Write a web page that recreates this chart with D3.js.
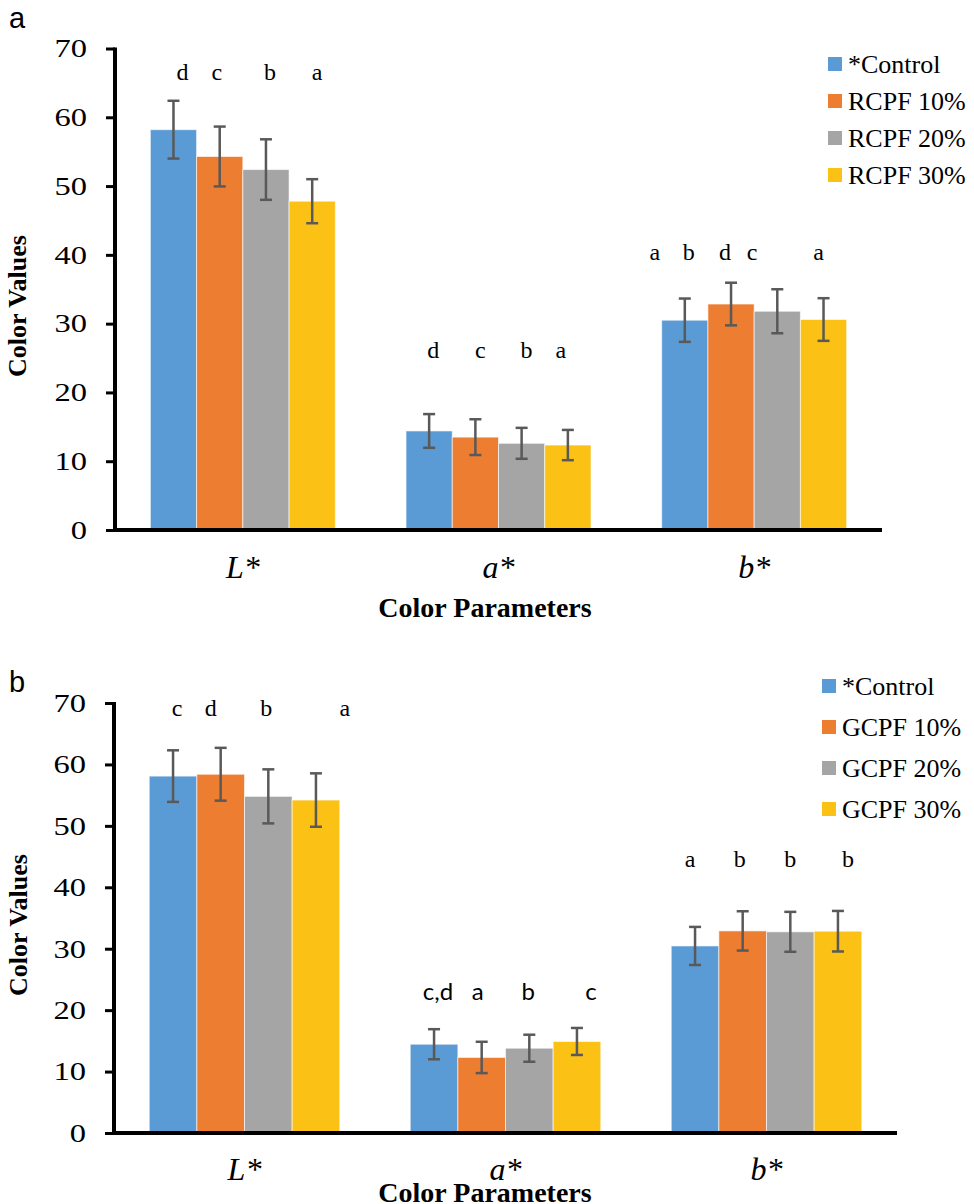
<!DOCTYPE html>
<html>
<head>
<meta charset="utf-8">
<script src="https://cdn.jsdelivr.net/npm/d3@7"></script>
<style>
  body { margin: 0; background: #fff; }
  svg { display: block; }
</style>
</head>
<body>
<svg id="chart" width="974" height="1204"></svg>
<script>
// categories and ticks
var categories = ["L*", "a*", "b*"];
var yTicks = [0, 10, 20, 30, 40, 50, 60, 70];
var colors = ["#5B9BD5", "#ED7D31", "#A5A5A5", "#FBC115"];

// panel a: series values per category (L*, a*, b*) and std errors
var seriesA = ["*Control", "RCPF 10%", "RCPF 20%", "RCPF 30%"];
var controlA = [58.2, 14.4, 30.5];
var rcpf10 = [54.3, 13.5, 32.85];
var rcpf20 = [52.4, 12.6, 31.8];
var rcpf30 = [47.8, 12.35, 30.6];
var controlAErr = [4.2, 2.45, 3.15];
var rcpf10Err = [4.35, 2.6, 3.1];
var rcpf20Err = [4.4, 2.25, 3.2];
var rcpf30Err = [3.2, 2.2, 3.1];
var lettersA = [["d", "c", "b", "a"], ["d", "c", "b", "a"], ["a", "b", "d", "c", "a"]];

// panel b
var seriesB = ["*Control", "GCPF 10%", "GCPF 20%", "GCPF 30%"];
var controlB = [58.1, 14.45, 30.45];
var gcpf10 = [58.4, 12.3, 32.9];
var gcpf20 = [54.8, 13.8, 32.75];
var gcpf30 = [54.2, 14.9, 32.85];
var controlBErr = [4.2, 2.45, 3.1];
var gcpf10Err = [4.3, 2.55, 3.2];
var gcpf20Err = [4.4, 2.2, 3.25];
var gcpf30Err = [4.35, 2.2, 3.3];
var lettersB = [["c", "d", "b", "a"], ["c,d", "a", "b", "c"], ["a", "b", "b", "b"]];

// layout for the significance letters (which bar, pixel nudge)
var letterBarA = [[0, 1, 2, 3], [0, 1, 2, 3], [0, 0, 1, 1, 3]];
var letterNudgeA = [[9, -3, 4, 5], [4, 5, 5, -7], [-30, 4, -6, 21, -5]];
var letterBarB = [[0, 1, 2, 3], [0, 1, 2, 3], [0, 1, 2, 3]];
var letterNudgeB = [[4, -10, -2, 29], [4, -4, -1, 14], [-5, -3, 0, 10]];

var svg = d3.select("#chart");
var serif = "'Liberation Serif', 'Times New Roman', serif";
var sans = "Lato, 'Open Sans', sans-serif";

function drawPanel(p) {
  var g = svg.append("g");

  var x0 = d3.scaleBand().domain(categories).range([p.left, p.right])
    .paddingInner(p.pad).paddingOuter(p.pad / 2);
  var x1 = d3.scaleBand().domain(d3.range(4)).range([0, x0.bandwidth()]);
  var y = d3.scaleLinear().domain([0, 70]).range([p.bottom, p.top]);

  var rows = [];
  categories.forEach(function (c, ci) {
    p.values.forEach(function (s, si) {
      rows.push({ cat: c, ci: ci, si: si, v: s[ci], e: p.errors[si][ci] });
    });
  });
  var cx = function (d) { return x0(d.cat) + x1(d.si) + x1.bandwidth() / 2; };

  // bars
  g.selectAll("rect.bar").data(rows).enter().append("rect")
    .attr("class", "bar")
    .attr("x", function (d) { return x0(d.cat) + x1(d.si); })
    .attr("width", x1.bandwidth())
    .attr("y", function (d) { return y(d.v); })
    .attr("height", function (d) { return y(0) - y(d.v); })
    .attr("fill", function (d) { return colors[d.si]; })
    .attr("stroke", "#ffffff")
    .attr("stroke-opacity", 0.6)
    .attr("stroke-width", 1);

  // error bars
  var eb = g.selectAll("g.err").data(rows).enter().append("g")
    .attr("class", "err")
    .attr("stroke", "#595959")
    .attr("stroke-width", 2.5);
  eb.append("line")
    .attr("x1", cx).attr("x2", cx)
    .attr("y1", function (d) { return y(d.v + d.e); })
    .attr("y2", function (d) { return y(d.v - d.e); });
  [1, -1].forEach(function (sgn) {
    eb.append("line")
      .attr("x1", function (d) { return cx(d) - 6; })
      .attr("x2", function (d) { return cx(d) + 6; })
      .attr("y1", function (d) { return y(d.v + sgn * d.e); })
      .attr("y2", function (d) { return y(d.v + sgn * d.e); });
  });

  // y axis
  var yAxis = g.append("g")
    .attr("transform", "translate(" + p.left + ",0)")
    .call(d3.axisLeft(y).tickValues(yTicks).tickSize(9).tickPadding(13.4));
  yAxis.select(".domain").attr("stroke", "#000").attr("stroke-width", 4)
    .attr("d", "M0," + (p.top - 1) + "V" + p.bottom);
  yAxis.selectAll(".tick line").attr("stroke", "#000").attr("stroke-width", 3);
  yAxis.selectAll(".tick text")
    .attr("transform", "scale(1.25,1)")
    .style("font-family", serif)
    .style("font-size", "26px")
    .attr("fill", "#000");

  // x axis
  var xAxis = g.append("g")
    .attr("transform", "translate(0," + p.bottom + ")")
    .call(d3.axisBottom(x0).tickSize(0).tickPadding(p.catPad));
  xAxis.select(".domain").attr("stroke", "#000").attr("stroke-width", 4)
    .attr("d", "M" + (p.left - 2) + ",0H" + p.right);
  xAxis.selectAll(".tick text")
    .style("font-family", serif)
    .style("font-style", "italic")
    .style("font-size", "32px")
    .attr("fill", "#000");

  // axis titles
  g.append("text")
    .attr("transform", "translate(" + p.yTitleX + "," + p.yTitleY + ") rotate(-90)")
    .attr("text-anchor", "middle")
    .style("font-family", serif)
    .style("font-weight", "bold")
    .style("font-size", "26px")
    .text("Color Values");
  g.append("text")
    .attr("x", p.xTitleX).attr("y", p.xTitleY)
    .attr("text-anchor", "middle")
    .style("font-family", serif)
    .style("font-weight", "bold")
    .style("font-size", "28px")
    .text("Color Parameters");

  // significance letters
  var lrows = [];
  p.letters.forEach(function (arr, ci) {
    arr.forEach(function (t, li) {
      lrows.push({ ci: ci, t: t, bar: p.letterBar[ci][li], dx: p.letterNudge[ci][li] });
    });
  });
  g.selectAll("text.sig").data(lrows).enter().append("text")
    .attr("class", "sig")
    .attr("x", function (d) {
      return x0(categories[d.ci]) + x1(d.bar) + x1.bandwidth() / 2 + d.dx;
    })
    .attr("y", function (d) { return p.letterY[d.ci]; })
    .attr("text-anchor", "middle")
    .style("font-family", function (d) { return p.letterFont[d.ci]; })
    .style("font-size", "24px")
    .text(function (d) { return d.t; });

  // legend
  var lg = g.append("g").selectAll("g").data(p.series).enter().append("g")
    .attr("transform", function (d, i) {
      return "translate(" + p.legendX + "," + (p.legendY + i * p.legendStep) + ")";
    });
  lg.append("rect").attr("x", 0).attr("y", -7).attr("width", 14).attr("height", 14)
    .attr("fill", function (d, i) { return colors[i]; });
  lg.append("text").attr("x", 20).attr("y", 9)
    .style("font-family", serif)
    .style("font-size", "26px")
    .text(function (d) { return d; });

  // panel letter
  svg.append("text")
    .attr("x", 9).attr("y", p.tagY)
    .style("font-family", "'Liberation Sans', Arial, sans-serif")
    .style("font-size", "29px")
    .text(p.tag);
}

drawPanel({
  tag: "a", tagY: 28,
  left: 115, right: 882, top: 48.5, bottom: 530, pad: 0.2765,
  values: [controlA, rcpf10, rcpf20, rcpf30],
  errors: [controlAErr, rcpf10Err, rcpf20Err, rcpf30Err],
  series: seriesA,
  letters: lettersA, letterBar: letterBarA, letterNudge: letterNudgeA,
  letterY: [80, 358, 260], letterFont: [serif, serif, serif],
  catPad: 25, yTitleX: 26, yTitleY: 306, xTitleX: 485, xTitleY: 617,
  legendX: 828, legendY: 64, legendStep: 37
});

drawPanel({
  tag: "b", tagY: 692,
  left: 114, right: 897, top: 703, bottom: 1133, pad: 0.27,
  values: [controlB, gcpf10, gcpf20, gcpf30],
  errors: [controlBErr, gcpf10Err, gcpf20Err, gcpf30Err],
  series: seriesB,
  letters: lettersB, letterBar: letterBarB, letterNudge: letterNudgeB,
  letterY: [716, 1000, 867], letterFont: [serif, sans, serif],
  catPad: 24, yTitleX: 27, yTitleY: 925, xTitleX: 485, xTitleY: 1202,
  legendX: 822, legendY: 686, legendStep: 41
});
</script>
</body>
</html>
